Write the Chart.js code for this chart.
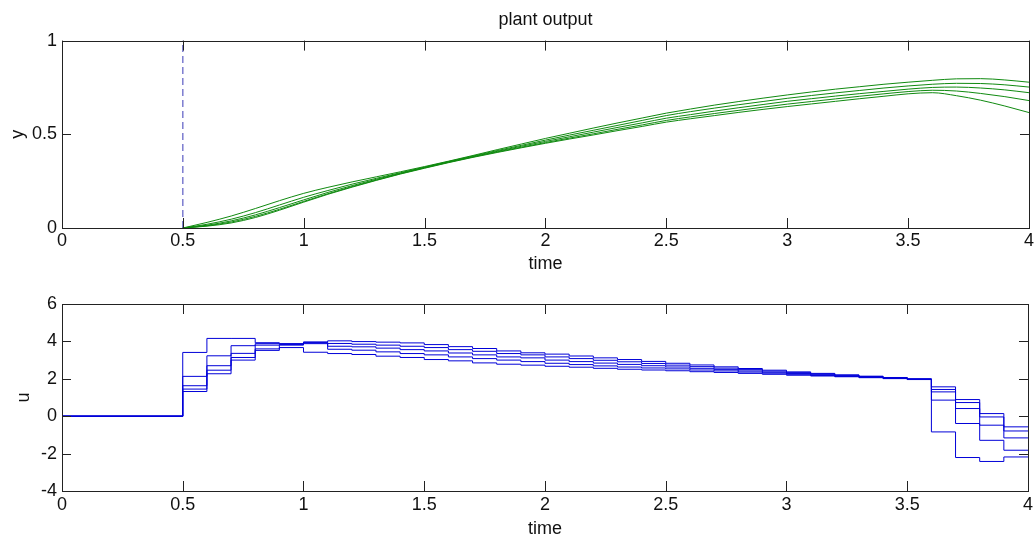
<!DOCTYPE html>
<html lang="en">
<head>
<meta charset="UTF-8">
<title>plant output</title>
<script src="https://cdn.jsdelivr.net/npm/chart.js@4.4.1/dist/chart.umd.min.js"></script>
<style>
	html, body { margin: 0; padding: 0; background: #fff; overflow: hidden; }
	.plot { position: absolute; left: 0; width: 1036px; }
	#top { top: 0; height: 280px; }
	#bottom { top: 280px; height: 265px; }
</style>
</head>
<body>
<div class="plot" id="top"><canvas id="yChart"></canvas></div>
<div class="plot" id="bottom"><canvas id="uChart"></canvas></div>

<script>
// time axis ticks
var timeTicks = [0, 0.5, 1, 1.5, 2, 2.5, 3, 3.5, 4];
var yTicks = [0, 0.5, 1];
var uTicks = [-4, -2, 0, 2, 4, 6];

// plant output y, sampled every 0.1 from t = 0.5
var tY = [0.5, 0.6, 0.7, 0.8, 0.9, 1.0, 1.1, 1.2, 1.3, 1.4, 1.5, 1.6, 1.7, 1.8, 1.9, 2.0, 2.1, 2.2,
	2.3, 2.4, 2.5, 2.6, 2.7, 2.8, 2.9, 3.0, 3.1, 3.2, 3.3, 3.4, 3.5, 3.6, 3.7, 3.8, 3.9, 4.0];
var y1 = [0, 0.030, 0.064, 0.104, 0.146, 0.185, 0.217, 0.246, 0.273, 0.300, 0.328, 0.357, 0.387, 0.418, 0.448, 0.478, 0.506, 0.534,
	0.561, 0.587, 0.613, 0.635, 0.656, 0.675, 0.693, 0.710, 0.726, 0.741, 0.754, 0.767, 0.778, 0.788, 0.796, 0.797, 0.790, 0.778];
var y2 = [0, 0.020, 0.047, 0.082, 0.123, 0.164, 0.200, 0.234, 0.265, 0.295, 0.325, 0.355, 0.384, 0.413, 0.441, 0.469, 0.496, 0.522,
	0.548, 0.574, 0.600, 0.621, 0.640, 0.658, 0.675, 0.692, 0.707, 0.721, 0.734, 0.747, 0.758, 0.767, 0.772, 0.771, 0.764, 0.752];
var y3 = [0, 0.015, 0.038, 0.070, 0.109, 0.150, 0.190, 0.226, 0.260, 0.292, 0.323, 0.353, 0.381, 0.409, 0.436, 0.462, 0.487, 0.512,
	0.537, 0.561, 0.586, 0.605, 0.624, 0.642, 0.659, 0.676, 0.690, 0.704, 0.717, 0.729, 0.741, 0.750, 0.752, 0.747, 0.737, 0.722];
var y4 = [0, 0.012, 0.032, 0.062, 0.100, 0.142, 0.183, 0.221, 0.256, 0.290, 0.321, 0.351, 0.379, 0.406, 0.431, 0.456, 0.480, 0.503,
	0.527, 0.550, 0.574, 0.593, 0.611, 0.628, 0.645, 0.661, 0.675, 0.689, 0.703, 0.716, 0.728, 0.735, 0.731, 0.718, 0.701, 0.680];
var y5 = [0, 0.010, 0.027, 0.056, 0.095, 0.138, 0.180, 0.218, 0.254, 0.288, 0.319, 0.349, 0.377, 0.403, 0.428, 0.452, 0.475, 0.497,
	0.520, 0.542, 0.565, 0.583, 0.600, 0.617, 0.633, 0.648, 0.662, 0.676, 0.690, 0.703, 0.716, 0.722, 0.706, 0.682, 0.651, 0.616];

// control input u, held constant over each 0.1 step
var tU = [0, 0.5, 0.6, 0.7, 0.8, 0.9, 1.0, 1.1, 1.2, 1.3, 1.4, 1.5, 1.6, 1.7, 1.8, 1.9, 2.0, 2.1, 2.2,
	2.3, 2.4, 2.5, 2.6, 2.7, 2.8, 2.9, 3.0, 3.1, 3.2, 3.3, 3.4, 3.5, 3.6, 3.7, 3.8, 3.9, 4.0];
var u1 = [0, 3.41, 4.16, 4.16, 3.93, 3.88, 3.97, 4.03, 3.99, 3.96, 3.92, 3.83, 3.72, 3.62, 3.49, 3.39, 3.32, 3.22, 3.12,
	3.03, 2.93, 2.83, 2.74, 2.64, 2.55, 2.46, 2.37, 2.29, 2.21, 2.14, 2.07, 2.00, 1.57, 0.89, 0.14, -0.57, -0.57];
var u2 = [0, 2.13, 3.23, 3.77, 3.88, 3.86, 3.95, 3.89, 3.85, 3.80, 3.74, 3.67, 3.56, 3.47, 3.35, 3.28, 3.17, 3.08, 2.99,
	2.91, 2.82, 2.73, 2.65, 2.57, 2.49, 2.41, 2.33, 2.26, 2.19, 2.12, 2.06, 1.99, 1.43, 0.73, -0.04, -0.79, -0.79];
var u3 = [0, 1.63, 2.70, 3.36, 3.80, 3.84, 3.92, 3.74, 3.71, 3.64, 3.56, 3.49, 3.38, 3.28, 3.17, 3.12, 3.00, 2.92, 2.84,
	2.77, 2.70, 2.63, 2.56, 2.49, 2.42, 2.35, 2.28, 2.22, 2.16, 2.10, 2.04, 1.98, 1.30, 0.41, -0.48, -1.16, -1.16];
var u4 = [0, 1.45, 2.46, 3.14, 3.60, 3.80, 3.88, 3.58, 3.53, 3.44, 3.35, 3.28, 3.17, 3.08, 3.00, 2.92, 2.83, 2.76, 2.69,
	2.63, 2.58, 2.53, 2.47, 2.42, 2.36, 2.30, 2.24, 2.18, 2.13, 2.08, 2.02, 1.97, 0.86, -0.39, -1.29, -1.82, -1.82];
var u5 = [0, 1.32, 2.27, 3.00, 3.52, 3.67, 3.42, 3.35, 3.30, 3.21, 3.14, 3.03, 2.96, 2.85, 2.78, 2.73, 2.67, 2.62, 2.56,
	2.51, 2.47, 2.43, 2.38, 2.34, 2.29, 2.24, 2.19, 2.15, 2.11, 2.06, 2.01, 1.96, -0.84, -2.21, -2.42, -2.18, -2.18];

// dashed marker for the start time
var startT = [0.5, 0.5];
var startV = [0, 1];

var FONT = "'Liberation Sans', Arial, sans-serif";
var INK = '#111';

function pts(xs, ys) {
	return xs.map(function (x, i) { return { x: x, y: ys[i] }; });
}

function fixTicks(values) {
	return function (scale) {
		scale.ticks = values.map(function (v) { return { value: v }; });
	};
}

// matlab style box with inward ticks on every side
var boxPlugin = {
	id: 'box',
	afterDatasetsDraw: function (chart) {
		var ctx = chart.ctx, a = chart.chartArea;
		var xs = chart.scales.x, ys = chart.scales.y;
		ctx.save();
		ctx.strokeStyle = '#222';
		ctx.lineWidth = 1;
		ctx.beginPath();
		xs.ticks.forEach(function (t) {
			var px = Math.round(xs.getPixelForValue(t.value)) + 0.5;
			ctx.moveTo(px, a.bottom); ctx.lineTo(px, a.bottom - 10);
			ctx.moveTo(px, a.top); ctx.lineTo(px, a.top + 10);
		});
		ys.ticks.forEach(function (t) {
			var py = Math.round(ys.getPixelForValue(t.value)) + 0.5;
			ctx.moveTo(a.left, py); ctx.lineTo(a.left + 9, py);
			ctx.moveTo(a.right, py); ctx.lineTo(a.right - 9, py);
		});
		ctx.stroke();
		ctx.strokeRect(Math.round(a.left) + 0.5, Math.round(a.top) + 0.5,
			Math.round(a.right - a.left), Math.round(a.bottom - a.top));
		ctx.restore();
	}
};

function axes(opts) {
	return {
		x: {
			type: 'linear', min: 0, max: 4,
			grid: { display: false, drawTicks: false },
			border: { display: false },
			afterBuildTicks: fixTicks(timeTicks),
			afterFit: function (s) { s.height = opts.xHeight; },
			ticks: { color: INK, padding: opts.xTickPad, font: { family: FONT, size: 18 },
				callback: function (v) { return String(v); } },
			title: { display: true, text: 'time', color: INK, font: { family: FONT, size: 18 },
				padding: { top: 0, bottom: opts.xTitlePad } }
		},
		y: {
			type: 'linear', min: opts.yMin, max: opts.yMax,
			grid: { display: false, drawTicks: false },
			border: { display: false },
			afterBuildTicks: fixTicks(opts.yTicks),
			afterFit: function (s) { s.width = 62; },
			ticks: { color: INK, padding: 5, font: { family: FONT, size: 18 },
				callback: function (v) { return String(v); } },
			title: { display: true, text: opts.yLabel, color: INK, font: { family: FONT, size: 18 },
				padding: { top: opts.yTitlePad, bottom: 0 } }
		}
	};
}

var common = {
	responsive: true,
	maintainAspectRatio: false,
	animation: false,
	events: [],
	plugins: { legend: { display: false }, tooltip: { enabled: false } }
};

var green = '#108a10';
var blue = '#0000d8';

new Chart(document.getElementById('yChart'), {
	type: 'line',
	data: {
		datasets: [y1, y2, y3, y4, y5].map(function (s) {
			return { data: pts(tY, s), borderColor: green, borderWidth: 1, pointRadius: 0,
				cubicInterpolationMode: 'monotone' };
		}).concat([{
			data: pts(startT, startV), borderColor: '#3a3ab8', borderWidth: 1,
			borderDash: [7, 4], pointRadius: 0
		}])
	},
	options: Object.assign({}, common, {
		layout: { padding: { left: 0, right: 5, top: 0, bottom: 0 } },
		plugins: {
			legend: { display: false }, tooltip: { enabled: false },
			title: { display: true, text: 'plant output', fullSize: false, color: INK,
				font: { family: FONT, size: 18, weight: 'normal' },
				padding: { top: 9, bottom: 10 } }
		},
		scales: axes({ xHeight: 52, xTickPad: 2, xTitlePad: 5, yMin: 0, yMax: 1,
			yTicks: yTicks, yLabel: 'y', yTitlePad: 7 })
	}),
	plugins: [boxPlugin]
});

new Chart(document.getElementById('uChart'), {
	type: 'line',
	data: {
		datasets: [u1, u2, u3, u4, u5].map(function (s) {
			return { data: pts(tU, s), borderColor: blue, borderWidth: 1, pointRadius: 0,
				stepped: 'before' };
		})
	},
	options: Object.assign({}, common, {
		layout: { padding: { left: 0, right: 5, top: 24, bottom: 0 } },
		scales: axes({ xHeight: 54, xTickPad: 3, xTitlePad: 5, yMin: -4, yMax: 6,
			yTicks: uTicks, yLabel: 'u', yTitlePad: 13 })
	}),
	plugins: [boxPlugin]
});
</script>
</body>
</html>
